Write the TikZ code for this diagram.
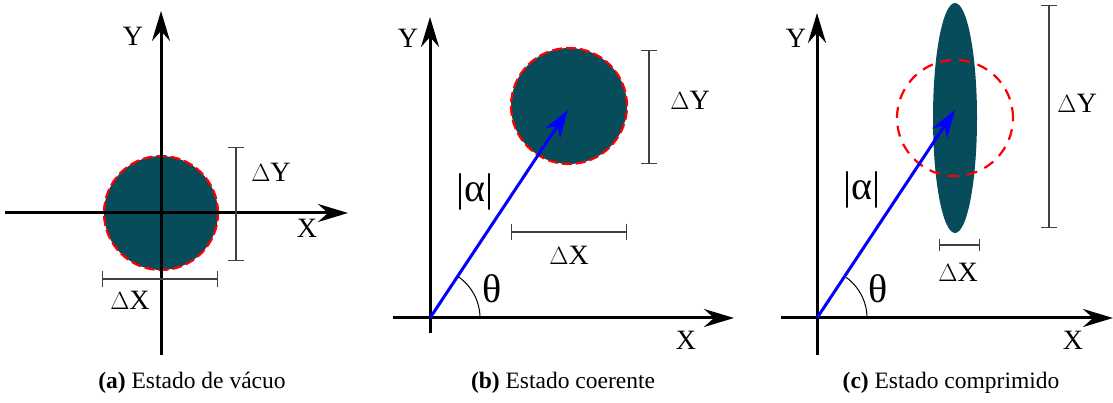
\documentclass[tikz,border=0pt]{standalone}
\usepackage{fontspec}
\setmainfont{Liberation Serif}
\usetikzlibrary{arrows.meta}
\definecolor{teal1}{HTML}{074C5B}
\tikzset{
  axis/.style={line width=3pt, -{Stealth[length=30pt,width=18pt,inset=10pt]}},
  vec/.style={blue, line width=3pt, -{Stealth[length=28pt,width=18pt,inset=9pt]}},
  errbar/.style={line width=1.3pt, black!75, {Bar[width=16pt]}-{Bar[width=16pt]}},
  errbarsmall/.style={line width=1.3pt, black!75, {Bar[width=12pt]}-{Bar[width=12pt]}},
  lbl/.style={font=\fontsize{28}{30}\selectfont, inner sep=0pt},
  greek/.style={font=\fontsize{40}{42}\selectfont, inner sep=0pt},
  captext/.style={font=\fontsize{23.5}{26}\selectfont, inner sep=0pt},
  blob/.style={fill=teal1},
  redring/.style={red, line width=2.2pt, dash pattern=on 10pt off 4pt},
  redringc/.style={red, line width=2.2pt, dash pattern=on 11pt off 8pt},
  anglearc/.style={line width=1pt},
}
\begin{document}
\begin{tikzpicture}[x=1pt,y=1pt]
\useasboundingbox (0,0) rectangle (1113,403);
% ---------- panel a ----------
\coordinate (oa) at (161,190);
\fill[blob] (oa) circle[radius=57];
\draw[redring] (oa) circle[radius=57];
\coordinate (ya0) at (161,48); \coordinate (ya1) at (161,392);
\coordinate (xa0) at (5,190);  \coordinate (xa1) at (348,190);
\draw[axis] (ya0) -- (ya1);
\draw[axis] (xa0) -- (xa1);
\coordinate (dya0) at (236,256); \coordinate (dya1) at (236,142);
\draw[errbar] (dya0) -- (dya1);
\coordinate (dxa0) at (102,124); \coordinate (dxa1) at (218,124);
\draw[errbar] (dxa0) -- (dxa1);
\node[lbl] (la1) at (271,231) {$\Delta$Y};
\node[lbl] (la2) at (130,103) {$\Delta$X};
\node[lbl] (la3) at (307,175) {X};
\node[lbl] (la4) at (133,367) {Y};
% ---------- panel b ----------
\coordinate (ob) at (430,85);
\coordinate (cb) at (569,297);
\fill[blob] (cb) circle[radius=58];
\draw[redring] (cb) circle[radius=58];
\coordinate (yb0) at (430,70); \coordinate (yb1) at (430,386);
\coordinate (xb0) at (393,85); \coordinate (xb1) at (734,85);
\draw[axis] (yb0) -- (yb1);
\draw[axis] (xb0) -- (xb1);
\coordinate (tb) at (568,293);
\draw[vec] (ob) -- (tb);
\draw[anglearc] (ob) ++(50,0) arc[start angle=0, end angle=56.4, radius=50];
\coordinate (dyb0) at (649,353); \coordinate (dyb1) at (649,239);
\draw[errbar] (dyb0) -- (dyb1);
\coordinate (dxb0) at (511,171); \coordinate (dxb1) at (627,171);
\draw[errbar] (dxb0) -- (dxb1);
\node[lbl] (lb1) at (690,303) {$\Delta$Y};
\node[lbl] (lb2) at (569,148) {$\Delta$X};
\node[lbl] (lb3) at (686,63) {X};
\node[lbl] (lb4) at (408,365) {Y};
\node[greek] (lb5) at (492,114) {θ};
\node[greek] (lb6) at (475,211) {|α|};
% ---------- panel c ----------
\coordinate (oc) at (817,85);
\coordinate (cc) at (955,285);
\fill[blob] (cc) ellipse[x radius=22, y radius=115];
\draw[redringc] (cc) circle[radius=58];
\coordinate (yc0) at (817,48); \coordinate (yc1) at (817,390);
\coordinate (xc0) at (781,85); \coordinate (xc1) at (1113,85);
\draw[axis] (yc0) -- (yc1);
\draw[axis] (xc0) -- (xc1);
\coordinate (tc) at (955,293);
\draw[vec] (oc) -- (tc);
\draw[anglearc] (oc) ++(50,0) arc[start angle=0, end angle=54.3, radius=50];
\coordinate (dyc0) at (1049,398); \coordinate (dyc1) at (1049,175);
\draw[errbar] (dyc0) -- (dyc1);
\coordinate (dxc0) at (939,158); \coordinate (dxc1) at (980,158);
\draw[errbarsmall] (dxc0) -- (dxc1);
\node[lbl] (lc1) at (1077,300) {$\Delta$Y};
\node[lbl] (lc2) at (958,131) {$\Delta$X};
\node[lbl] (lc3) at (1073,63) {X};
\node[lbl] (lc4) at (796,365) {Y};
\node[greek] (lc5) at (878,114) {θ};
\node[greek] (lc6) at (862,213) {|α|};
% ---------- captions ----------
\node[captext] (ca) at (192,20) {\textbf{(a)} Estado de vácuo};
\node[captext] (cb2) at (563,20) {\textbf{(b)} Estado coerente};
\node[captext] (cc2) at (951,20) {\textbf{(c)} Estado comprimido};
\end{tikzpicture}
\end{document}
